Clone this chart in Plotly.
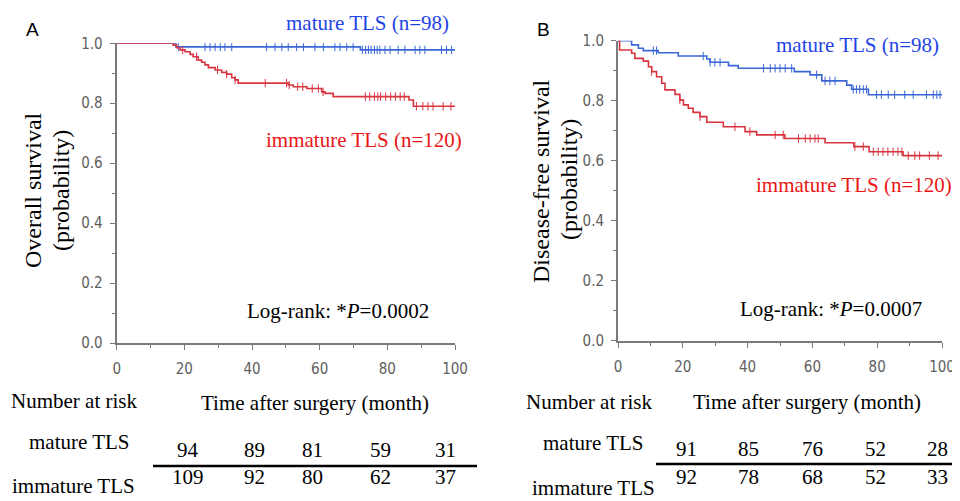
import plotly.graph_objects as go
import bisect

# page body has an 8px margin: figure is drawn 8px in from the window's top-left
OFF = 8
W, H = 960 - OFF, 501 - OFF

# ---------------- data ----------------
# Panel A: overall survival
a_mat_t = [0, 17.5, 72.0, 100.5]
a_mat_s = [1.0, 0.988, 0.978, 0.978]
a_mat_cens = [18.2, 26.1, 27.6, 29.1, 30.6, 32.0, 34.0, 44.3, 46.8, 48.8, 50.7, 53.2, 55.2,
              58.6, 61.1, 64.5, 66.0, 68.0, 69.9, 72.6, 73.6, 74.4, 75.2, 76.2, 77.0, 77.8,
              79.3, 80.8, 83.2, 85.2, 88.2, 89.6, 91.1, 96.0, 97.5, 99.0]

a_imm_t = [0, 16.7, 17.7, 18.7, 20.2, 21.7, 22.6, 24.1, 25.1, 26.1, 27.1, 29.1, 31.0, 32.5,
           34.0, 35.0, 35.9, 50.7, 52.2, 56.2, 60.6, 61.6, 64.0, 86.4, 87.7, 100.5]
a_imm_s = [1.0, 0.994, 0.985, 0.978, 0.972, 0.963, 0.955, 0.944, 0.937, 0.928, 0.919, 0.911,
           0.903, 0.897, 0.885, 0.878, 0.867, 0.861, 0.855, 0.849, 0.838, 0.833, 0.822, 0.811,
           0.790, 0.790]
a_imm_cens = [19.5, 23.6, 29.8, 32.5, 35.0, 43.9, 50.2, 51.0, 53.5, 55.0, 57.8, 59.6, 61.0,
              73.5, 74.8, 76.2, 77.2, 78.0, 79.5, 81.0, 82.4, 83.8, 85.0, 88.6, 90.5, 92.0,
              93.5, 96.5, 98.8]

# Panel B: disease-free survival
b_mat_t = [0, 4.2, 6.3, 7.8, 12.4, 18.6, 27.4, 28.4, 34.1, 37.1, 54.4, 59.3, 62.9, 70.6,
           72.1, 77.3, 100]
b_mat_s = [1.0, 0.986, 0.975, 0.967, 0.960, 0.949, 0.939, 0.928, 0.917, 0.908, 0.897, 0.886,
           0.866, 0.852, 0.838, 0.820, 0.820]
b_mat_cens = [10.9, 11.9, 26.3, 28.4, 29.9, 31.5, 44.9, 47.0, 48.5, 50.0, 51.6, 53.6, 61.3,
              63.9, 65.4, 67.0, 72.6, 73.6, 74.6, 75.7, 76.7, 79.8, 81.3, 83.4, 85.4, 88.5,
              91.1, 95.2, 97.3, 98.4, 99.4]

b_imm_t = [0, 0.5, 4.2, 5.2, 7.8, 9.4, 10.4, 11.9, 13.5, 14.5, 17.6, 19.1, 20.2, 21.7, 23.2,
           25.3, 27.4, 32.5, 39.2, 42.8, 51.5, 63.9, 72.8, 77.5, 88.0, 100]
b_imm_s = [1.0, 0.969, 0.958, 0.941, 0.932, 0.913, 0.897, 0.880, 0.858, 0.836, 0.821, 0.802,
           0.786, 0.775, 0.761, 0.747, 0.728, 0.713, 0.697, 0.686, 0.674, 0.660, 0.647,
           0.630, 0.617, 0.617]
b_imm_cens = [10.4, 19.1, 25.3, 36.1, 40.7, 48.5, 51.0, 55.7, 57.8, 59.3, 60.8, 61.8, 73.1,
              75.7, 78.8, 80.3, 81.8, 83.3, 84.9, 86.4, 87.6, 89.6, 91.6, 93.1, 96.1, 98.8]

risk_months = [20, 40, 60, 80, 100]
a_risk_mat = [94, 89, 81, 59, 31]
a_risk_imm = [109, 92, 80, 62, 37]
b_risk_mat = [91, 85, 76, 52, 28]
b_risk_imm = [92, 78, 68, 52, 33]

# ---------------- styles ----------------
BLUE_LINE = "#3a66d6"
RED_LINE = "#d8343f"
BLUE_TXT = "#1f44e6"
RED_TXT = "#ea1515"
AXIS_COL = "#7a7a7a"
TICK_FONT = dict(family="DejaVu Sans Condensed, Liberation Sans Narrow, DejaVu Sans",
                 size=15, color="#5e5e5e")
SERIF = "Liberation Serif, Times New Roman, serif"


def step_at(ts, ss, t):
    i = bisect.bisect_right(ts, t) - 1
    return ss[max(i, 0)]


fig = go.Figure()


def add_curve(ts, ss, cens, color, xa, ya):
    fig.add_trace(go.Scatter(x=ts, y=ss, mode="lines", line=dict(color=color, width=1.6, shape="hv"),
                             xaxis=xa, yaxis=ya, showlegend=False, hoverinfo="skip"))
    fig.add_trace(go.Scatter(x=cens, y=[step_at(ts, ss, c) for c in cens], mode="markers",
                             marker=dict(symbol="line-ns", size=6, line=dict(color=color, width=1)),
                             xaxis=xa, yaxis=ya, showlegend=False, hoverinfo="skip"))


add_curve(a_mat_t, a_mat_s, a_mat_cens, BLUE_LINE, "x", "y")
add_curve(a_imm_t, a_imm_s, a_imm_cens, RED_LINE, "x", "y")
add_curve(b_mat_t, b_mat_s, b_mat_cens, BLUE_LINE, "x2", "y2")
add_curve(b_imm_t, b_imm_s, b_imm_cens, RED_LINE, "x2", "y2")


def px(x):
    return (x - OFF) / W


def py(y):
    return 1 - (y - OFF) / H


def xaxis(dom, anchor):
    return dict(domain=dom, range=[0, 100], anchor=anchor, showline=True, linecolor=AXIS_COL,
                linewidth=2, ticks="outside", ticklen=5, tickcolor=AXIS_COL, tickwidth=1,
                tickvals=[0, 20, 40, 60, 80, 100], tickfont=TICK_FONT, showgrid=False,
                zeroline=False, ticklabelstandoff=6, automargin=False,
                minor=dict(tickvals=[10, 30, 50, 70, 90], ticks="outside", ticklen=3,
                           tickcolor=AXIS_COL, showgrid=False))


def yaxis(dom, anchor):
    return dict(domain=dom, range=[0, 1.0], anchor=anchor, showline=True, linecolor=AXIS_COL,
                linewidth=2, ticks="outside", ticklen=5, tickcolor=AXIS_COL, tickwidth=1,
                tickvals=[0, 0.2, 0.4, 0.6, 0.8, 1.0], ticktext=["0.0", "0.2", "0.4", "0.6", "0.8", "1.0"],
                tickfont=TICK_FONT, showgrid=False, zeroline=False, ticklabelstandoff=4,
                automargin=False,
                minor=dict(tickvals=[0.1, 0.3, 0.5, 0.7, 0.9], ticks="outside", ticklen=3,
                           tickcolor=AXIS_COL, showgrid=False))


fig.update_layout(
    width=W, height=H, margin=dict(l=0, r=0, t=0, b=0, autoexpand=False),
    paper_bgcolor="white", plot_bgcolor="white",
    xaxis=xaxis([px(116.7), px(455)], "y"),
    yaxis=yaxis([py(343), py(43.3)], "x"),
    xaxis2=xaxis([px(618), px(942)], "y2"),
    yaxis2=yaxis([py(340.7), py(40.7)], "x2"),
)

ann = []


def T(text, x, y, size=21, color="black", xanchor="center", family=SERIF, angle=0):
    ann.append(dict(text=text, x=px(x), y=py(y), xref="paper", yref="paper", showarrow=False,
                    xanchor=xanchor, yanchor="middle", textangle=angle,
                    font=dict(family=family, size=size, color=color)))


SANS = "Liberation Sans, Arial, sans-serif"
# Panel labels
T("A", 32, 30, size=19, family=SANS)
T("B", 543, 29, size=19, family=SANS)

# Panel A texts
T("mature TLS (n=98)", 451, 23, color=BLUE_TXT, xanchor="right")
T("immature TLS (n=120)", 464, 140, color=RED_TXT, xanchor="right")
T("Log-rank: *<i>P</i>=0.0002", 245, 311, xanchor="left")
T("Overall survival", 33, 190, size=24, angle=-90)
T("(probability)", 61, 191, size=24, angle=-90)
T("Number at risk", 73.5, 401)
T("Time after surgery (month)", 314.5, 403)
T("mature TLS", 79, 442)
T("immature TLS", 73, 486)

# Panel B texts
T("mature TLS (n=98)", 941, 45, color=BLUE_TXT, xanchor="right")
T("immature TLS (n=120)", 954, 185, color=RED_TXT, xanchor="right")
T("Log-rank: *<i>P</i>=0.0007", 738, 309, xanchor="left")
T("Disease-free survival", 541, 181, size=24, angle=-90)
T("(probability)", 569, 180, size=24, angle=-90)
T("Number at risk", 589, 402)
T("Time after surgery (month)", 806.5, 402)
T("mature TLS", 593.5, 443)
T("immature TLS", 593.5, 488)

# Number at risk values
a_shift = [4, 2, -7, -7, -10]
b_shift = [4, 1, 0, -2, -5]
for m, v1, v2, s in zip(risk_months, a_risk_mat, a_risk_imm, a_shift):
    for v, yy in ((v1, 450), (v2, 477)):
        ann.append(dict(text=str(v), x=m, y=py(yy), xref="x", yref="paper", showarrow=False,
                        xshift=s, xanchor="center", yanchor="middle",
                        font=dict(family=SERIF, size=21, color="black")))
for m, v1, v2, s in zip(risk_months, b_risk_mat, b_risk_imm, b_shift):
    for v, yy in ((v1, 449), (v2, 477)):
        ann.append(dict(text=str(v), x=m, y=py(yy), xref="x2", yref="paper", showarrow=False,
                        xshift=s, xanchor="center", yanchor="middle",
                        font=dict(family=SERIF, size=21, color="black")))

fig.update_layout(annotations=ann)

fig.add_shape(type="line", xref="paper", yref="paper", x0=px(153), x1=px(477), y0=py(466), y1=py(466),
              line=dict(color="black", width=2.5))
fig.add_shape(type="line", xref="paper", yref="paper", x0=px(656), x1=px(960), y0=py(464), y1=py(464),
              line=dict(color="black", width=2.5))

fig.write_html("out.html")
